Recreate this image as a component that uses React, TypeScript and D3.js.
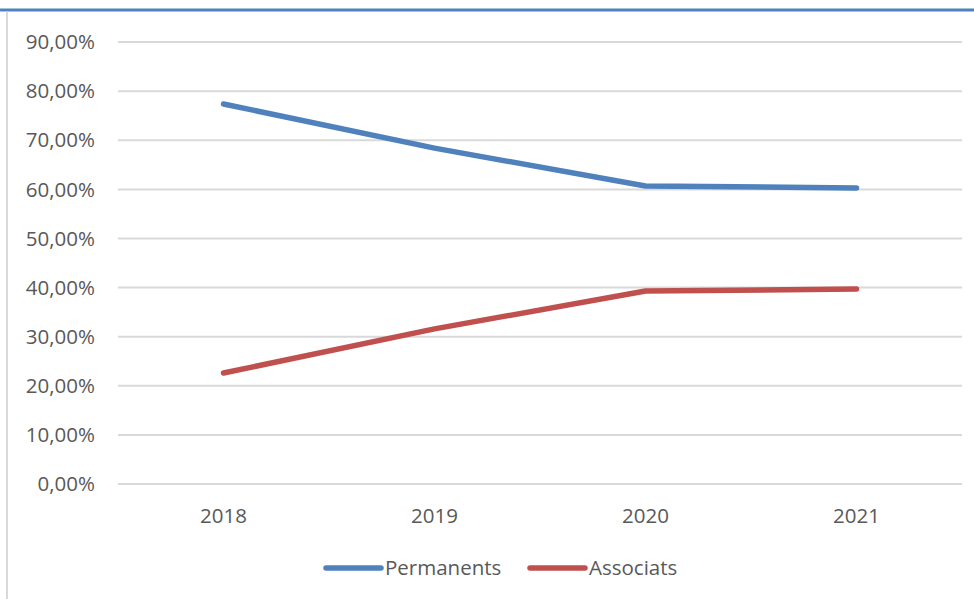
import React from "react";
import * as d3 from "d3";

const years = ["2018", "2019", "2020", "2021"];
const permanents = [77.4, 68.4, 60.7, 60.3];
const associats = [22.6, 31.6, 39.3, 39.7];
const yTicks = [0, 10, 20, 30, 40, 50, 60, 70, 80, 90];
const seriesNames = ["Permanents", "Associats"];
const seriesColors = ["#4f81bd", "#c0504d"];

const W = 974;
const H = 599;
const FONT = "'Open Sans', 'Liberation Sans', sans-serif";
const FS = 20.5;

export default function App() {
  const x = d3.scaleBand<string>().domain(years).range([118, 962]);
  const y = d3.scaleLinear().domain([0, 90]).range([484, 42.1]);
  const line = d3
    .line<number>()
    .x((_, i) => (x(years[i]) as number) + x.bandwidth() / 2)
    .y((d) => y(d));
  const series = [permanents, associats];
  const legendX = [326, 530];
  const fmt = (v: number) => v.toFixed(2).replace(".", ",") + "%";

  return (
    <svg
      width={W}
      height={H}
      style={{ position: "fixed", left: 0, top: 0, background: "#fff" }}
      fontFamily={FONT}
    >
      <rect x={0} y={0} width={W} height={H} fill="#fff" />
      <line x1={0} x2={W} y1={10} y2={10} stroke="#4f81bd" strokeWidth={3} />
      <line x1={7} x2={7} y1={11.5} y2={H} stroke="#d9d9d9" strokeWidth={2} />
      {yTicks.map((t) => (
        <g key={t}>
          <line x1={118} x2={962} y1={y(t)} y2={y(t)} stroke="#d9d9d9" strokeWidth={2} />
          <text
            x={95}
            y={y(t)}
            dy="0.35em"
            textAnchor="end"
            fontSize={FS}
            fill="#595959"
          >
            {fmt(t)}
          </text>
        </g>
      ))}
      {years.map((yr) => (
        <text
          key={yr}
          x={(x(yr) as number) + x.bandwidth() / 2}
          y={516}
          dy="0.35em"
          textAnchor="middle"
          fontSize={FS}
          fill="#595959"
        >
          {yr}
        </text>
      ))}
      {series.map((s, i) => (
        <path
          key={i}
          d={line(s) || ""}
          fill="none"
          stroke={seriesColors[i]}
          strokeWidth={5.5}
          strokeLinecap="round"
          strokeLinejoin="round"
        />
      ))}
      {seriesNames.map((n, i) => (
        <g key={n}>
          <line
            x1={legendX[i]}
            x2={legendX[i] + 55}
            y1={568}
            y2={568}
            stroke={seriesColors[i]}
            strokeWidth={5.5}
            strokeLinecap="round"
          />
          <text x={legendX[i] + 59} y={568} dy="0.35em" fontSize={FS} fill="#595959">
            {n}
          </text>
        </g>
      ))}
    </svg>
  );
}
